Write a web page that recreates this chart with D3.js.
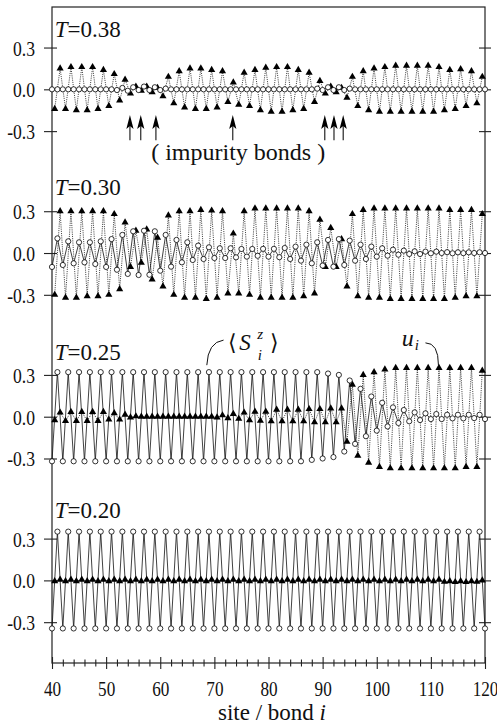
<!DOCTYPE html>
<html>
<head>
<meta charset="utf-8">
<script src="https://cdn.jsdelivr.net/npm/d3@7"></script>
<style>
  body { margin: 0; background: #fff; }
  svg { display: block; }
</style>
</head>
<body>
<div class="chart-div"></div>
<script>
//--------------------------- Data

// temperatures of the four panels, top to bottom
var temps = ["0.38", "0.30", "0.25", "0.20"];

// <S^z_i> on sites 40..120 (rows of ten sites)
var sz38 = [
  0, 0, 0, 0, 0, 0, 0, 0, 0, 0,
  0, 0, -0.005, 0.01, -0.01, 0.015, -0.005, 0.02, -0.005, 0.015,
  -0.005, 0.005, 0, 0, 0, 0, 0, 0, 0, 0,
  0, 0, 0, 0, 0, 0, 0, 0, 0, 0,
  0, 0, 0, 0, 0, 0, 0, 0, 0, 0.005,
  -0.005, 0.015, -0.005, 0.015, -0.005, 0.005, 0, 0, 0, 0,
  0, 0, 0, 0, 0, 0, 0, 0, 0, 0,
  0, 0, 0, 0, 0, 0, 0, 0, 0, 0,
  0];
var sz30 = [
  -0.10, 0.105, -0.086, 0.084, -0.074, 0.077, -0.067, 0.077, -0.079, 0.084,
  -0.10, 0.10, -0.12, 0.13, -0.15, 0.156, -0.158, 0.16, -0.156, 0.156,
  -0.127, 0.13, -0.098, 0.094, -0.067, 0.077, -0.05, 0.053, -0.043, 0.041,
  -0.036, 0.034, -0.036, 0.034, -0.031, 0.029, -0.026, 0.029, -0.02, 0.03,
  -0.026, 0.03, -0.03, 0.036, -0.043, 0.046, -0.055, 0.06, -0.074, 0.077,
  -0.09, 0.094, -0.098, 0.10, -0.086, 0.089, -0.055, 0.06, -0.043, 0.046,
  -0.026, 0.034, -0.019, 0.024, -0.012, 0.017, -0.007, 0.012, -0.007, 0.01,
  -0.002, 0.01, 0, 0.006, -0.002, 0.005, -0.001, 0.005, 0, 0.005,
  0];
var sz25 = [
  -0.32, 0.32, -0.32, 0.32, -0.32, 0.32, -0.32, 0.32, -0.32, 0.32,
  -0.32, 0.32, -0.32, 0.32, -0.32, 0.32, -0.32, 0.32, -0.32, 0.32,
  -0.32, 0.32, -0.32, 0.32, -0.32, 0.32, -0.32, 0.32, -0.32, 0.32,
  -0.32, 0.32, -0.32, 0.32, -0.32, 0.32, -0.32, 0.32, -0.32, 0.32,
  -0.32, 0.32, -0.32, 0.32, -0.32, 0.32, -0.32, 0.32, -0.31, 0.32,
  -0.30, 0.31, -0.29, 0.30, -0.25, 0.26, -0.195, 0.20, -0.14, 0.145,
  -0.10, 0.10, -0.07, 0.067, -0.045, 0.048, -0.033, 0.031, -0.024, 0.024,
  -0.017, 0.019, -0.017, 0.014, -0.012, 0.014, -0.012, 0.014, -0.01, 0.014,
  -0.017];
var sz20 = [
  -0.345, 0.35, -0.345, 0.35, -0.345, 0.35, -0.345, 0.35, -0.345, 0.35,
  -0.345, 0.35, -0.345, 0.35, -0.345, 0.35, -0.345, 0.35, -0.345, 0.35,
  -0.345, 0.35, -0.345, 0.35, -0.345, 0.35, -0.345, 0.35, -0.345, 0.35,
  -0.345, 0.35, -0.345, 0.35, -0.345, 0.35, -0.345, 0.35, -0.345, 0.35,
  -0.345, 0.35, -0.345, 0.35, -0.345, 0.35, -0.345, 0.35, -0.345, 0.35,
  -0.345, 0.35, -0.345, 0.35, -0.345, 0.35, -0.345, 0.35, -0.345, 0.35,
  -0.345, 0.35, -0.345, 0.35, -0.345, 0.35, -0.345, 0.35, -0.345, 0.35,
  -0.345, 0.35, -0.345, 0.35, -0.345, 0.35, -0.345, 0.35, -0.345, 0.35,
  -0.345];

// u_i on bonds 40.5..119.5 (rows of ten bonds)
var u38 = [
  -0.14, 0.15, -0.14, 0.16, -0.15, 0.16, -0.15, 0.16, -0.14, 0.14,
  -0.12, 0.11, -0.08, 0.07, -0.03, 0.02, -0.01, 0.02, -0.02, 0.01,
  -0.05, 0.09, -0.10, 0.13, -0.13, 0.15, -0.14, 0.15, -0.14, 0.14,
  -0.13, 0.13, -0.09, 0.05, -0.11, 0.12, -0.12, 0.14, -0.15, 0.155,
  -0.16, 0.16, -0.16, 0.16, -0.15, 0.14, -0.14, 0.12, -0.09, 0.06,
  -0.03, 0.02, -0.02, 0.01, -0.06, 0.09, -0.12, 0.13, -0.15, 0.15,
  -0.16, 0.16, -0.16, 0.17, -0.16, 0.17, -0.16, 0.17, -0.16, 0.17,
  -0.16, 0.16, -0.15, 0.14, -0.14, 0.145, -0.12, 0.13, -0.10, 0.09];
var u30 = [
  -0.30, 0.30, -0.32, 0.30, -0.32, 0.30, -0.31, 0.30, -0.31, 0.30,
  -0.30, 0.28, -0.26, 0.22, -0.10, 0.16, -0.07, 0.17, -0.19, 0.11,
  -0.24, 0.27, -0.30, 0.30, -0.32, 0.30, -0.32, 0.31, -0.33, 0.305,
  -0.32, 0.30, -0.29, 0.14, -0.29, 0.30, -0.30, 0.32, -0.32, 0.32,
  -0.32, 0.32, -0.32, 0.32, -0.32, 0.32, -0.31, 0.30, -0.29, 0.24,
  -0.10, 0.18, -0.10, 0.10, -0.24, 0.28, -0.31, 0.31, -0.32, 0.32,
  -0.32, 0.32, -0.33, 0.32, -0.33, 0.32, -0.33, 0.32, -0.33, 0.32,
  -0.33, 0.32, -0.33, 0.31, -0.32, 0.31, -0.31, 0.31, -0.31, 0.28];
var u25 = [
  -0.025, 0.03, -0.03, 0.035, -0.03, 0.035, -0.03, 0.035, -0.03, 0.035,
  -0.02, 0.025, -0.02, 0.015, -0.005, 0.003, 0, 0, 0, 0,
  0, 0, 0, 0, 0, 0, 0, 0, 0, 0,
  -0.005, 0.01, -0.01, 0.02, -0.015, 0.03, -0.025, 0.036, -0.029, 0.036,
  -0.033, 0.05, -0.033, 0.05, -0.033, 0.05, -0.033, 0.055, -0.04, 0.055,
  -0.04, 0.06, -0.04, 0.06, -0.18, 0.23, -0.28, 0.30, -0.33, 0.32,
  -0.36, 0.34, -0.37, 0.35, -0.37, 0.35, -0.37, 0.35, -0.37, 0.35,
  -0.37, 0.35, -0.37, 0.35, -0.37, 0.35, -0.36, 0.35, -0.36, 0.33];
var u20 = [
  -0.005, 0.005, -0.005, 0.005, -0.005, 0.005, -0.005, 0.005, -0.005, 0.005,
  -0.005, 0.005, -0.005, 0.005, -0.005, 0.005, -0.005, 0.005, -0.005, 0.005,
  -0.005, 0.005, -0.005, 0.005, -0.005, 0.005, -0.005, 0.005, -0.005, 0.005,
  -0.005, 0.005, -0.005, 0.005, -0.005, 0.005, -0.005, 0.005, -0.005, 0.005,
  -0.005, 0.005, -0.005, 0.005, -0.005, 0.005, -0.005, 0.005, -0.005, 0.005,
  -0.005, 0.005, -0.005, 0.005, -0.005, 0.005, -0.005, 0.005, -0.005, 0.005,
  -0.005, 0.005, -0.005, 0.005, -0.005, 0.005, -0.005, 0.005, -0.005, 0.005,
  -0.005, 0.005, -0.01, -0.005, -0.012, -0.005, -0.012, -0.005, -0.01, 0];

// bonds marked by arrows in the top panel
var impurityBonds = [54.4, 56.4, 59.2, 73.4, 90.4, 92.1, 93.8];

var xTicks = [40, 50, 60, 70, 80, 90, 100, 110, 120];
var yTicks = [0.3, 0.0, -0.3];
var yTickLabels = ["0.3", "0.0", "-0.3"];

//--------------------------- Pick a serif face that is really installed

function pickSerif() {
    var ctx = document.createElement("canvas").getContext("2d");
    var probe = "impurity bonds T=0.38 WMmli";
    function w(f) { ctx.font = "40px " + f; return ctx.measureText(probe).width; }
    var mono = w("monospace"), sans = w("sans-serif");
    var list = ["Liberation Serif", "Tinos", "Times New Roman", "DejaVu Serif",
        "Noto Serif", "FreeSerif", "Nimbus Roman", "Times"];
    for (var i = 0; i < list.length; i++) {
        var a = w("'" + list[i] + "', monospace"), b = w("'" + list[i] + "', sans-serif");
        if (a !== mono && b !== sans) return "'" + list[i] + "', serif";
    }
    return "serif";
}
var serif = pickSerif();

//--------------------------- SVG definition

var width = 497;
var height = 725;

var svg = d3.select("div.chart-div")
    .append("svg")
    .attr("width", width)
    .attr("height", height)
    .style("font-family", serif);

var sites = d3.range(40, 121);
var bonds = d3.range(40.5, 120, 1);

var x = d3.scaleLinear().domain([40, 120]).range([52, 485]);
// one vertical scale for the whole stack, each panel shifted down
var y = d3.scaleLinear().domain([0.591, -4.118]).range([7, 663]);
var panelShift = [0, -1.175, -2.35, -3.525];
var labelLift = [0.375, 0.415, 0.405, 0.445];

var panels = [
    { t: temps[0], sz: sz38, u: u38 },
    { t: temps[1], sz: sz30, u: u30 },
    { t: temps[2], sz: sz25, u: u25 },
    { t: temps[3], sz: sz20, u: u20 }
];

var frame = svg.append("g");
var dataLayer = svg.append("g");
var textLayer = svg.append("g");

var tri = d3.symbol().type(d3.symbolTriangle).size(22);

var panelScales = [];

//--------------------------- Panels

panels.forEach(function (p, k) {
    var yk = d3.scaleLinear().domain([-0.3, 0.3])
        .range([y(panelShift[k] - 0.3), y(panelShift[k] + 0.3)]);
    panelScales.push(yk);

    var g = dataLayer.append("g");

    var uLine = d3.line()
        .x(function (d, i) { return x(bonds[i]); })
        .y(function (d) { return yk(d); });
    var sLine = d3.line()
        .x(function (d, i) { return x(sites[i]); })
        .y(function (d) { return yk(d); });

    g.append("path")
        .attr("d", uLine(p.u))
        .attr("fill", "none")
        .attr("stroke", "#333")
        .attr("stroke-width", 0.9)
        .attr("stroke-dasharray", "1.1,1.1");

    g.append("path")
        .attr("d", sLine(p.sz))
        .attr("fill", "none")
        .attr("stroke", "#111")
        .attr("stroke-width", 0.8);

    g.selectAll("path.tri").data(p.u).enter()
        .append("path")
        .attr("class", "tri")
        .attr("d", tri)
        .attr("transform", function (d, i) { return "translate(" + x(bonds[i]) + "," + yk(d) + ")"; })
        .attr("fill", "#000");

    g.selectAll("circle").data(p.sz).enter()
        .append("circle")
        .attr("cx", function (d, i) { return x(sites[i]); })
        .attr("cy", function (d) { return yk(d); })
        .attr("r", 2.6)
        .attr("fill", "white")
        .attr("stroke", "#000")
        .attr("stroke-width", 0.8);

    //--------------------------- left and right axes of this panel

    var gl = frame.append("g")
        .attr("transform", "translate(" + x(40) + ",0)")
        .call(d3.axisLeft(yk).tickValues(yTicks).tickSize(8)
            .tickFormat(function (d, i) { return yTickLabels[i]; }));
    gl.select(".domain").remove();
    gl.attr("font-family", serif).attr("font-size", 22);
    gl.selectAll("line").attr("x1", 5).attr("stroke", "#222").attr("stroke-width", 1.1);
    gl.selectAll("text")
        .attr("x", 0)
        .attr("dy", "0.34em")
        .attr("fill", "#111")
        .attr("transform", "translate(-17,0) scale(0.8,1)");

    var gr = frame.append("g")
        .attr("transform", "translate(" + x(120) + ",0)")
        .call(d3.axisRight(yk).tickValues(yTicks).tickSize(6).tickFormat(""));
    gr.select(".domain").remove();
    gr.selectAll("line").attr("x1", -6).attr("stroke", "#222").attr("stroke-width", 1.1);

    //--------------------------- temperature label

    var lab = textLayer.append("text")
        .attr("x", x(40.5))
        .attr("y", yk(labelLift[k]))
        .attr("font-size", 23)
        .attr("fill", "#111");
    lab.append("tspan").attr("font-style", "italic").text("T");
    lab.append("tspan").text("=" + p.t);
});

//--------------------------- Frame and x axis

frame.append("rect")
    .attr("x", x(40))
    .attr("y", y(0.591))
    .attr("width", x(120) - x(40))
    .attr("height", y(-4.118) - y(0.591))
    .attr("fill", "none")
    .attr("stroke", "#222")
    .attr("stroke-width", 1.2);

var minorTicks = d3.range(42, 120, 2).filter(function (v) { return v % 10 !== 0; });

var gxm = frame.append("g")
    .attr("transform", "translate(0," + y(-4.118) + ")")
    .call(d3.axisBottom(x).tickValues(minorTicks).tickSize(3.5).tickFormat(""));
gxm.select(".domain").remove();
gxm.selectAll("line").attr("y1", -3.5).attr("stroke", "#222").attr("stroke-width", 1.1);

var gx = frame.append("g")
    .attr("transform", "translate(0," + y(-4.118) + ")")
    .call(d3.axisBottom(x).tickValues(xTicks).tickSize(6).tickFormat(d3.format("d")));
gx.select(".domain").remove();
gx.attr("font-family", serif).attr("font-size", 22);
gx.selectAll("line").attr("y1", -6).attr("stroke", "#222").attr("stroke-width", 1.1);
gx.selectAll("text")
    .attr("y", 33.5)
    .attr("dy", 0)
    .attr("fill", "#111")
    .attr("transform", "scale(0.78,1)");

var xt = textLayer.append("text")
    .attr("x", 272)
    .attr("y", 720)
    .attr("text-anchor", "middle")
    .attr("font-size", 23)
    .attr("fill", "#111");
xt.append("tspan").text("site / bond ");
xt.append("tspan").attr("font-style", "italic").text("i");

//--------------------------- Impurity arrows (top panel)

var y0 = panelScales[0];

impurityBonds.forEach(function (b) {
    var ax = x(b);
    textLayer.append("line")
        .attr("x1", ax).attr("x2", ax)
        .attr("y1", y0(-0.366)).attr("y2", y0(-0.26))
        .attr("stroke", "#111")
        .attr("stroke-width", 1.1);
    textLayer.append("path")
        .attr("d", "M" + ax + "," + y0(-0.185)
            + "L" + (ax - 3.6) + "," + (y0(-0.185) + 14)
            + "L" + ax + "," + (y0(-0.185) + 11)
            + "L" + (ax + 3.6) + "," + (y0(-0.185) + 14) + "Z")
        .attr("fill", "#000");
});

textLayer.append("text")
    .attr("x", x(74.4))
    .attr("y", y0(-0.507))
    .attr("text-anchor", "middle")
    .attr("font-size", 24)
    .attr("fill", "#111")
    .text("( impurity bonds )");

//--------------------------- Annotations (third panel)

var y2 = panelScales[2];

function callout(x0, v0, xc, vc, x1, v1) {
    textLayer.append("path")
        .attr("d", "M" + x(x0) + "," + y2(v0) + "Q" + x(xc) + "," + y2(vc) + " " + x(x1) + "," + y2(v1))
        .attr("fill", "none")
        .attr("stroke", "#111")
        .attr("stroke-width", 1);
}

function note(xv, v, txt, size, italic) {
    textLayer.append("text")
        .attr("x", x(xv))
        .attr("y", y2(v))
        .attr("font-size", size)
        .attr("font-style", italic ? "italic" : "normal")
        .attr("fill", "#111")
        .text(txt);
}

callout(68.6, 0.37, 68.8, 0.535, 71.7, 0.55);
note(72.6, 0.48, "\u27E8", 22, false);
note(74.6, 0.48, "S", 23, true);
note(77.9, 0.56, "z", 15, true);
note(78.0, 0.405, "i", 15, true);
note(80.2, 0.48, "\u27E9", 22, false);

callout(109.0, 0.53, 111.4, 0.53, 111.4, 0.37);
note(104.6, 0.51, "u", 24, true);
note(107.0, 0.48, "i", 15, true);
</script>
</body>
</html>
